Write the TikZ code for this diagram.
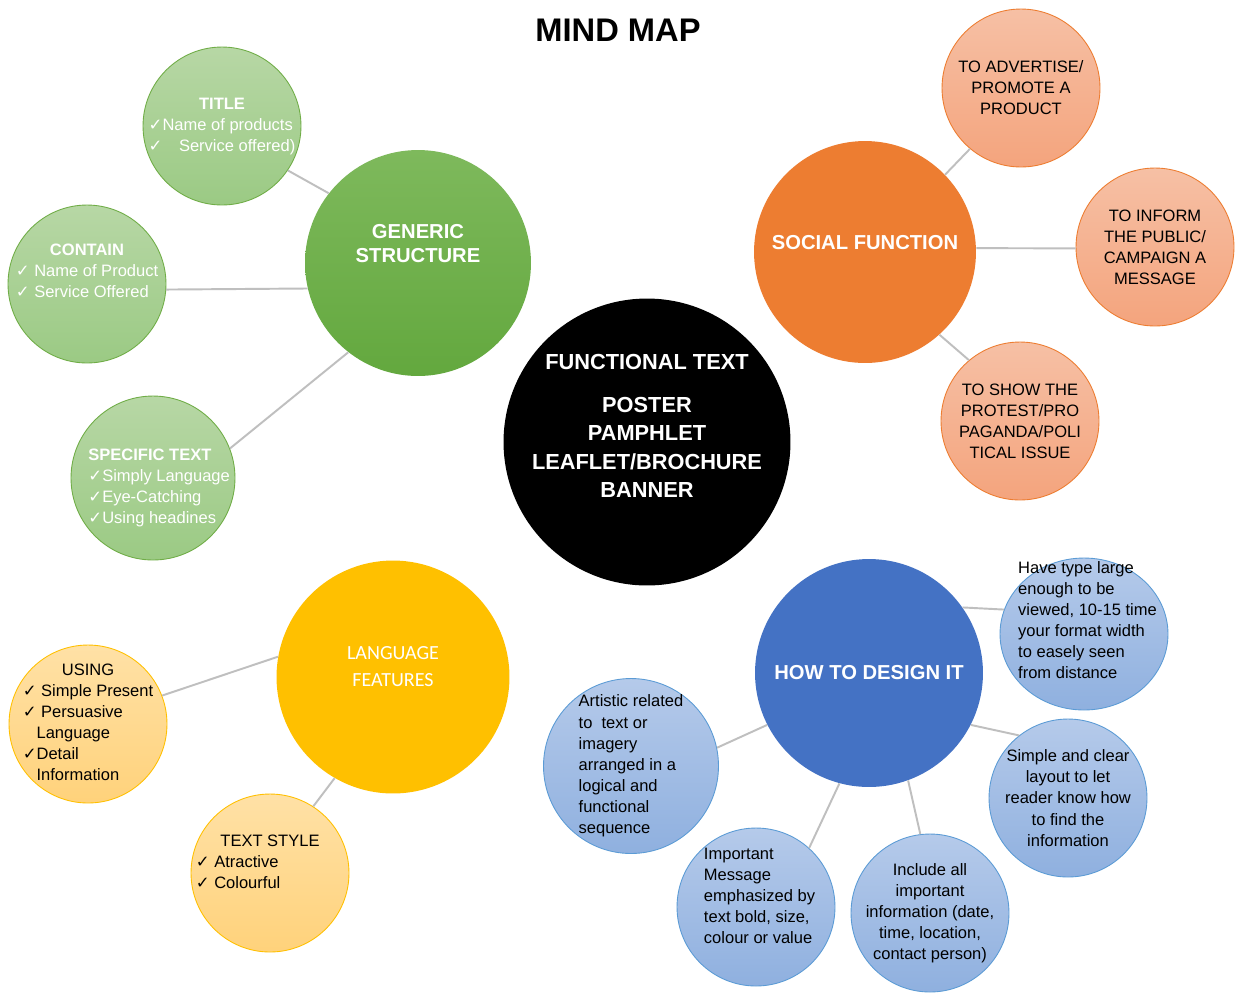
\documentclass[tikz,border=0pt]{standalone}
\usepackage{fontspec}
\setmainfont{Liberation Sans}
\newfontfamily\calibri{Carlito}
\newfontfamily\dejavu{DejaVu Sans}
\usepackage{tikz}
\usetikzlibrary{shapes}
\definecolor{grn}{HTML}{70AD47}
\definecolor{grnA}{HTML}{7EB95C}
\definecolor{grnB}{HTML}{63A83E}
\definecolor{grnL}{HTML}{B7D7A5}
\definecolor{grnM}{HTML}{9BCA84}
\definecolor{org}{HTML}{ED7D31}
\definecolor{orgL}{HTML}{F6C0A5}
\definecolor{orgM}{HTML}{F4A47D}
\definecolor{ylw}{HTML}{FFC000}
\definecolor{ylwL}{HTML}{FFE1A6}
\definecolor{ylwM}{HTML}{FFD27B}
\definecolor{blu}{HTML}{4472C4}
\definecolor{bluE}{HTML}{5B9BD5}
\definecolor{bluL}{HTML}{B5CAEA}
\definecolor{bluM}{HTML}{8FB0DF}
\definecolor{lnk}{HTML}{BFBFBF}
\newcommand{\ck}{{\dejavu ✓}}
\newcommand{\fs}[2]{\fontsize{#1}{#2}\selectfont}

\begin{document}
\begin{tikzpicture}[x=0.02cm,y=-0.02cm,
  hub/.style={circle,inner sep=-30pt,minimum size=#1,align=center,text=white,font=\bfseries\fs{11.5}{14}},
  leaf/.style={circle,draw,line width=0.5pt,inner sep=-30pt,minimum size=3.16cm,font=\fs{9.4}{12}},
  gleaf/.style={leaf,draw=grn,top color=grnL,bottom color=grnM,text=white},
  oleaf/.style={leaf,draw=org,top color=orgL,bottom color=orgM,align=center},
  yleaf/.style={leaf,draw=ylw,top color=ylwL,bottom color=ylwM},
  bleaf/.style={leaf,draw=bluE,top color=bluL,bottom color=bluM},
  link/.style={draw=lnk,line width=1.1pt}]
  \fill[white] (0,0) rectangle (1237,992);
  \useasboundingbox (0,0) rectangle (1237,992);

  \node[font=\bfseries\fs{18.6}{22}] (head) at (618,30) {MIND MAP};

  \node[hub=5.74cm,fill=black,font=\bfseries\fs{12.4}{16.2}] (core) at (647,442)
    {\begin{tabular}{@{}c@{}}FUNCTIONAL TEXT\\[8pt]POSTER\\PAMPHLET\\LEAFLET/BROCHURE\\BANNER\\[16pt]\end{tabular}};
  \node[hub=4.52cm,top color=grnA,bottom color=grnB] (generic) at (418,263)
    {\begin{tabular}{@{}c@{}}GENERIC\\STRUCTURE\\[20pt]\end{tabular}};
  \node[hub=4.44cm,fill=org] (social) at (865,252)
    {\begin{tabular}{@{}c@{}}SOCIAL FUNCTION\\[8pt]\end{tabular}};
  \node[hub=4.66cm,fill=ylw,font=\calibri\fs{11.4}{15.3}] (langf) at (393,677)
    {\begin{tabular}{@{}c@{}}LANGUAGE\\FEATURES\\[11pt]\end{tabular}};
  \node[hub=4.56cm,fill=blu] (design) at (869,673) {HOW TO DESIGN IT};

  \node[gleaf] (title) at (222,126)
    {\begin{tabular}{@{}l@{}}\multicolumn{1}{@{}c@{}}{\bfseries TITLE}\\ \ck Name of products\\ \ck\quad Service offered)\end{tabular}};
  \node[gleaf] (contain) at (87,284)
    {\begin{tabular}{@{}l@{}}\multicolumn{1}{@{}c@{}}{\bfseries CONTAIN}\\ \ck\ Name of Product\\ \ck\ Service Offered\\[13pt]\end{tabular}};
  \node[gleaf,minimum size=3.28cm] (specific) at (153,478)
    {\begin{tabular}{@{\hspace{7pt}}l@{}}\rule{0pt}{19.7pt}\textbf{SPECIFIC TEXT}\\ \ck Simply Language\\ \ck Eye-Catching\\ \ck Using headines\end{tabular}};

  \node[oleaf] (advert) at (1021,88) {TO ADVERTISE/\\PROMOTE A\\PRODUCT};
  \node[oleaf] (inform) at (1155,247) {TO INFORM\\THE PUBLIC/\\CAMPAIGN A\\MESSAGE};
  \node[oleaf] (protest) at (1020,421) {TO SHOW THE\\PROTEST/PRO\\PAGANDA/POLI\\TICAL ISSUE};

  \node[yleaf] (using) at (88,724)
    {\begin{tabular}{@{}l@{}}\multicolumn{1}{@{}c@{}}{USING}\\ \ck\ Simple Present\\ \ck\ Persuasive\\ \phantom{\ck}Language\\ \ck Detail\\ \phantom{\ck}Information\end{tabular}};
  \node[yleaf] (txtstyle) at (270,873)
    {\begin{tabular}{@{}l@{\hspace{14pt}}}\multicolumn{1}{@{}l@{\hspace{14pt}}}{\hspace{14pt}TEXT STYLE}\\ \ck\ Atractive\\ \ck\ Colourful\\[11pt]\end{tabular}};

  \node[bleaf,ellipse,minimum width=3.36cm,minimum height=3.04cm] (typesz) at (1084,634)
    {\begin{tabular}{@{\hspace{4pt}}l@{}}Have type large\\enough to be\\viewed, 10-15 time\\your format width\\to easely seen\\from distance\\[14pt]\end{tabular}};
  \node[bleaf,minimum size=3.5cm] (artistic) at (631,766)
    {\begin{tabular}{@{}l@{}}Artistic related\\to\ \ text or\\imagery\\arranged in a\\logical and\\functional\\sequence\end{tabular}};
  \node[bleaf] (message) at (756,907)
    {\begin{tabular}{@{\hspace{4pt}}l@{}}Important\\Message\\emphasized by\\text bold, size,\\colour or value\\[11pt]\end{tabular}};
  \node[bleaf,align=center] (includes) at (930,913) {Include all\\important\\information (date,\\time, location,\\contact person)};
  \node[bleaf,align=center] (layout) at (1068,798) {Simple and clear\\layout to let\\reader know how\\to find the\\information};

  \draw[link] (title.326) -- (generic.142);
  \draw[link] (contain.356) -- (generic.193);
  \draw[link] (specific.21) -- (generic.232);
  \draw[link] (social.44) -- (advert.230);
  \draw[link] (social.2) -- (inform.181);
  \draw[link] (social.312) -- (protest.130);
  \draw[link] (langf.170) -- (using.21);
  \draw[link] (langf.240) -- (txtstyle.57);
  \draw[link] (design.35) -- (typesz.163);
  \draw[link] (design.207) -- (artistic.12);
  \draw[link] (design.255) -- (message.48);
  \draw[link] (design.290) -- (includes.97);
  \draw[link] (design.333) -- (layout.128);
\end{tikzpicture}
\end{document}
